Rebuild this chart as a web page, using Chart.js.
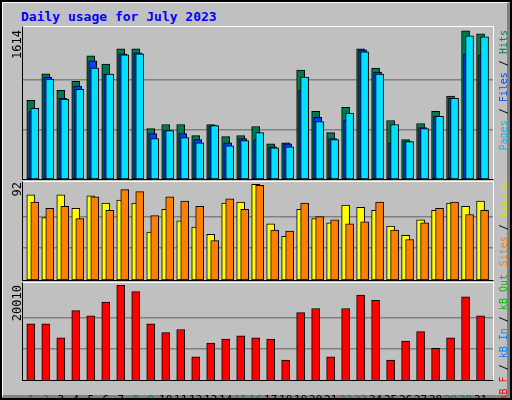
<!DOCTYPE html>
<html><head><meta charset="utf-8">
<script src="https://cdn.jsdelivr.net/npm/chart.js@4"></script>
<style>
html,body{margin:0;padding:0;background:#fff}
#wrap{position:relative;width:508px;height:396px;border:2px solid #000;background:#c0c0c0;overflow:hidden;font-family:"DejaVu Sans Mono",monospace}
#bev{position:absolute;left:0;top:0;right:0;bottom:0;border-right:3px solid #808080;border-bottom:3px solid #808080;border-top:1px solid #fff;border-left:1px solid #fff}
.box{position:absolute}
.frame{position:absolute;border-top:1px solid #fff;border-right:1px solid #fff;border-left:1px solid #000;border-bottom:1px solid #000;box-sizing:border-box;pointer-events:none}
.vt{position:absolute;writing-mode:vertical-rl;transform:rotate(180deg);font-size:12px;white-space:nowrap}
.lg{font-size:10px}
#title{position:absolute;left:19px;top:7px;color:#0000ff;font-weight:bold;font-size:13px}
</style></head><body>
<div id="wrap"><div id="bev"></div>
<div id="title">Daily usage for July 2023</div>
<div class="box" style="left:21px;top:25px;width:470px;height:152px"><canvas id="c1"></canvas></div>
<div class="box" style="left:21px;top:180px;width:470px;height:98px"><canvas id="c2"></canvas></div>
<div class="box" style="left:21px;top:281px;width:470px;height:118px"><canvas id="c3"></canvas></div>
<div class="frame" style="left:20px;top:24px;width:472px;height:154px"></div>
<div class="frame" style="left:20px;top:179px;width:472px;height:100px"></div>
<div class="frame" style="left:20px;top:280px;width:472px;height:99px"></div>
<div class="vt" id="l1" style="left:8px;top:28px"></div>
<div class="vt" id="l2" style="left:8px;top:180px"></div>
<div class="vt" id="l3" style="left:8px;top:283px"></div>
<div class="vt lg" style="left:496px;top:28px"><span style="color:#00c0e0">Pages</span> / <span style="color:#0050ff">Files</span> / <span style="color:#008050">Hits</span></div>
<div class="vt lg" style="left:496px;top:180px"><span style="color:#ff8000">Sites</span> / <span style="color:#e0e000">Visits</span></div>
<div class="vt lg" style="left:496px;top:272px"><span style="color:#ff0000">kB F</span> / <span style="color:#0080ff">kB In</span> / <span style="color:#00c000">kB Out</span></div>
</div>
<script>
const days=[1,2,3,4,5,6,7,8,9,10,11,12,13,14,15,16,17,18,19,20,21,22,23,24,25,26,27,28,29,30,31];
const weekends=[1,2,8,9,15,16,22,23,29,30];
const hits=[856,1145,965,1064,1340,1252,1416,1416,549,593,593,472,593,461,472,571,384,395,1186,736,505,780,1416,1207,637,428,604,736,903,1614,1581];
const files=[735,1109,878,1010,1285,1142,1362,1373,494,527,494,428,582,395,439,428,351,384,966,670,439,640,1405,1163,395,406,560,681,878,1362,1351];
const pages=[768,1087,867,977,1208,1142,1351,1362,439,527,450,395,582,362,417,505,340,351,1109,626,428,717,1384,1142,593,406,549,681,878,1559,1548];
const visits=[82,60,82,69,81,74,77,74,46,68,57,51,44,74,75,92,54,42,68,59,55,72,70,67,52,43,58,67,74,71,76];
const sites=[75,69,71,59,80,67,87,85,62,80,76,71,38,78,68,91,48,47,74,61,58,54,56,75,48,39,55,69,75,63,67];
const kbytes=[11948,11948,9016,14733,13634,16493,20010,18691,11948,10116,10775,5058,7917,8796,9456,9016,8796,4398,14294,15173,5058,15173,17958,16860,4398,8356,10336,6817,9016,17592,13634];

const px=1/15;
function pts(arr,off){return arr.map((v,i)=>({x:days[i]+off*px,y:v}));}
function ds(arr,off,color,order){return {data:pts(arr,off),backgroundColor:color,borderColor:'#000',borderWidth:1,barThickness:8,grouped:false,order:order,borderSkipped:false};}
function mk(id,datasets,maxv,showX){
  const step=maxv/3;
  new Chart(document.getElementById(id),{type:'bar',data:{datasets},
    options:{responsive:true,maintainAspectRatio:false,animation:false,
      layout:{padding:0},plugins:{legend:{display:false},tooltip:{enabled:false}},
      scales:{
        x:{type:'linear',offset:false,min:0.48,max:31.83,display:showX,grid:{display:false},border:{display:false},
           afterBuildTicks:s=>{s.ticks=days.map(d=>({value:d}));},
           afterFit:s=>{if(showX){s.height=20;s.paddingLeft=0;s.paddingRight=0;}},
           ticks:{autoSkip:false,maxRotation:0,minRotation:0,padding:5,font:{family:'DejaVu Sans Mono',size:11},
             color:c=>weekends.includes(c.tick.value)?'#008060':'#000'}},
        y:{min:0,max:maxv*1.025,afterFit:s=>{s.width=0;},border:{display:false},
           afterBuildTicks:s=>{s.ticks=[{value:step},{value:2*step}];},
           ticks:{display:false},grid:{color:'#808080',lineWidth:1.5,drawTicks:false}}
      }}});
}
const mh=Math.max(...hits),mv=Math.max(...visits,...sites),mk3=Math.max(...kbytes);
document.getElementById('l1').textContent=mh;
document.getElementById('l2').textContent=mv;
document.getElementById('l3').textContent=mk3;
mk('c1',[ds(hits,0,'#007850',3),ds(files,2,'#0040ff',2),ds(pages,4,'#00e0ff',1)],mh,false);
mk('c2',[ds(visits,0,'#ffff00',2),ds(sites,4,'#ff8000',1)],mv,false);
mk('c3',[ds(kbytes,0,'#ff0000',1)],mk3,true);
</script></body></html>
